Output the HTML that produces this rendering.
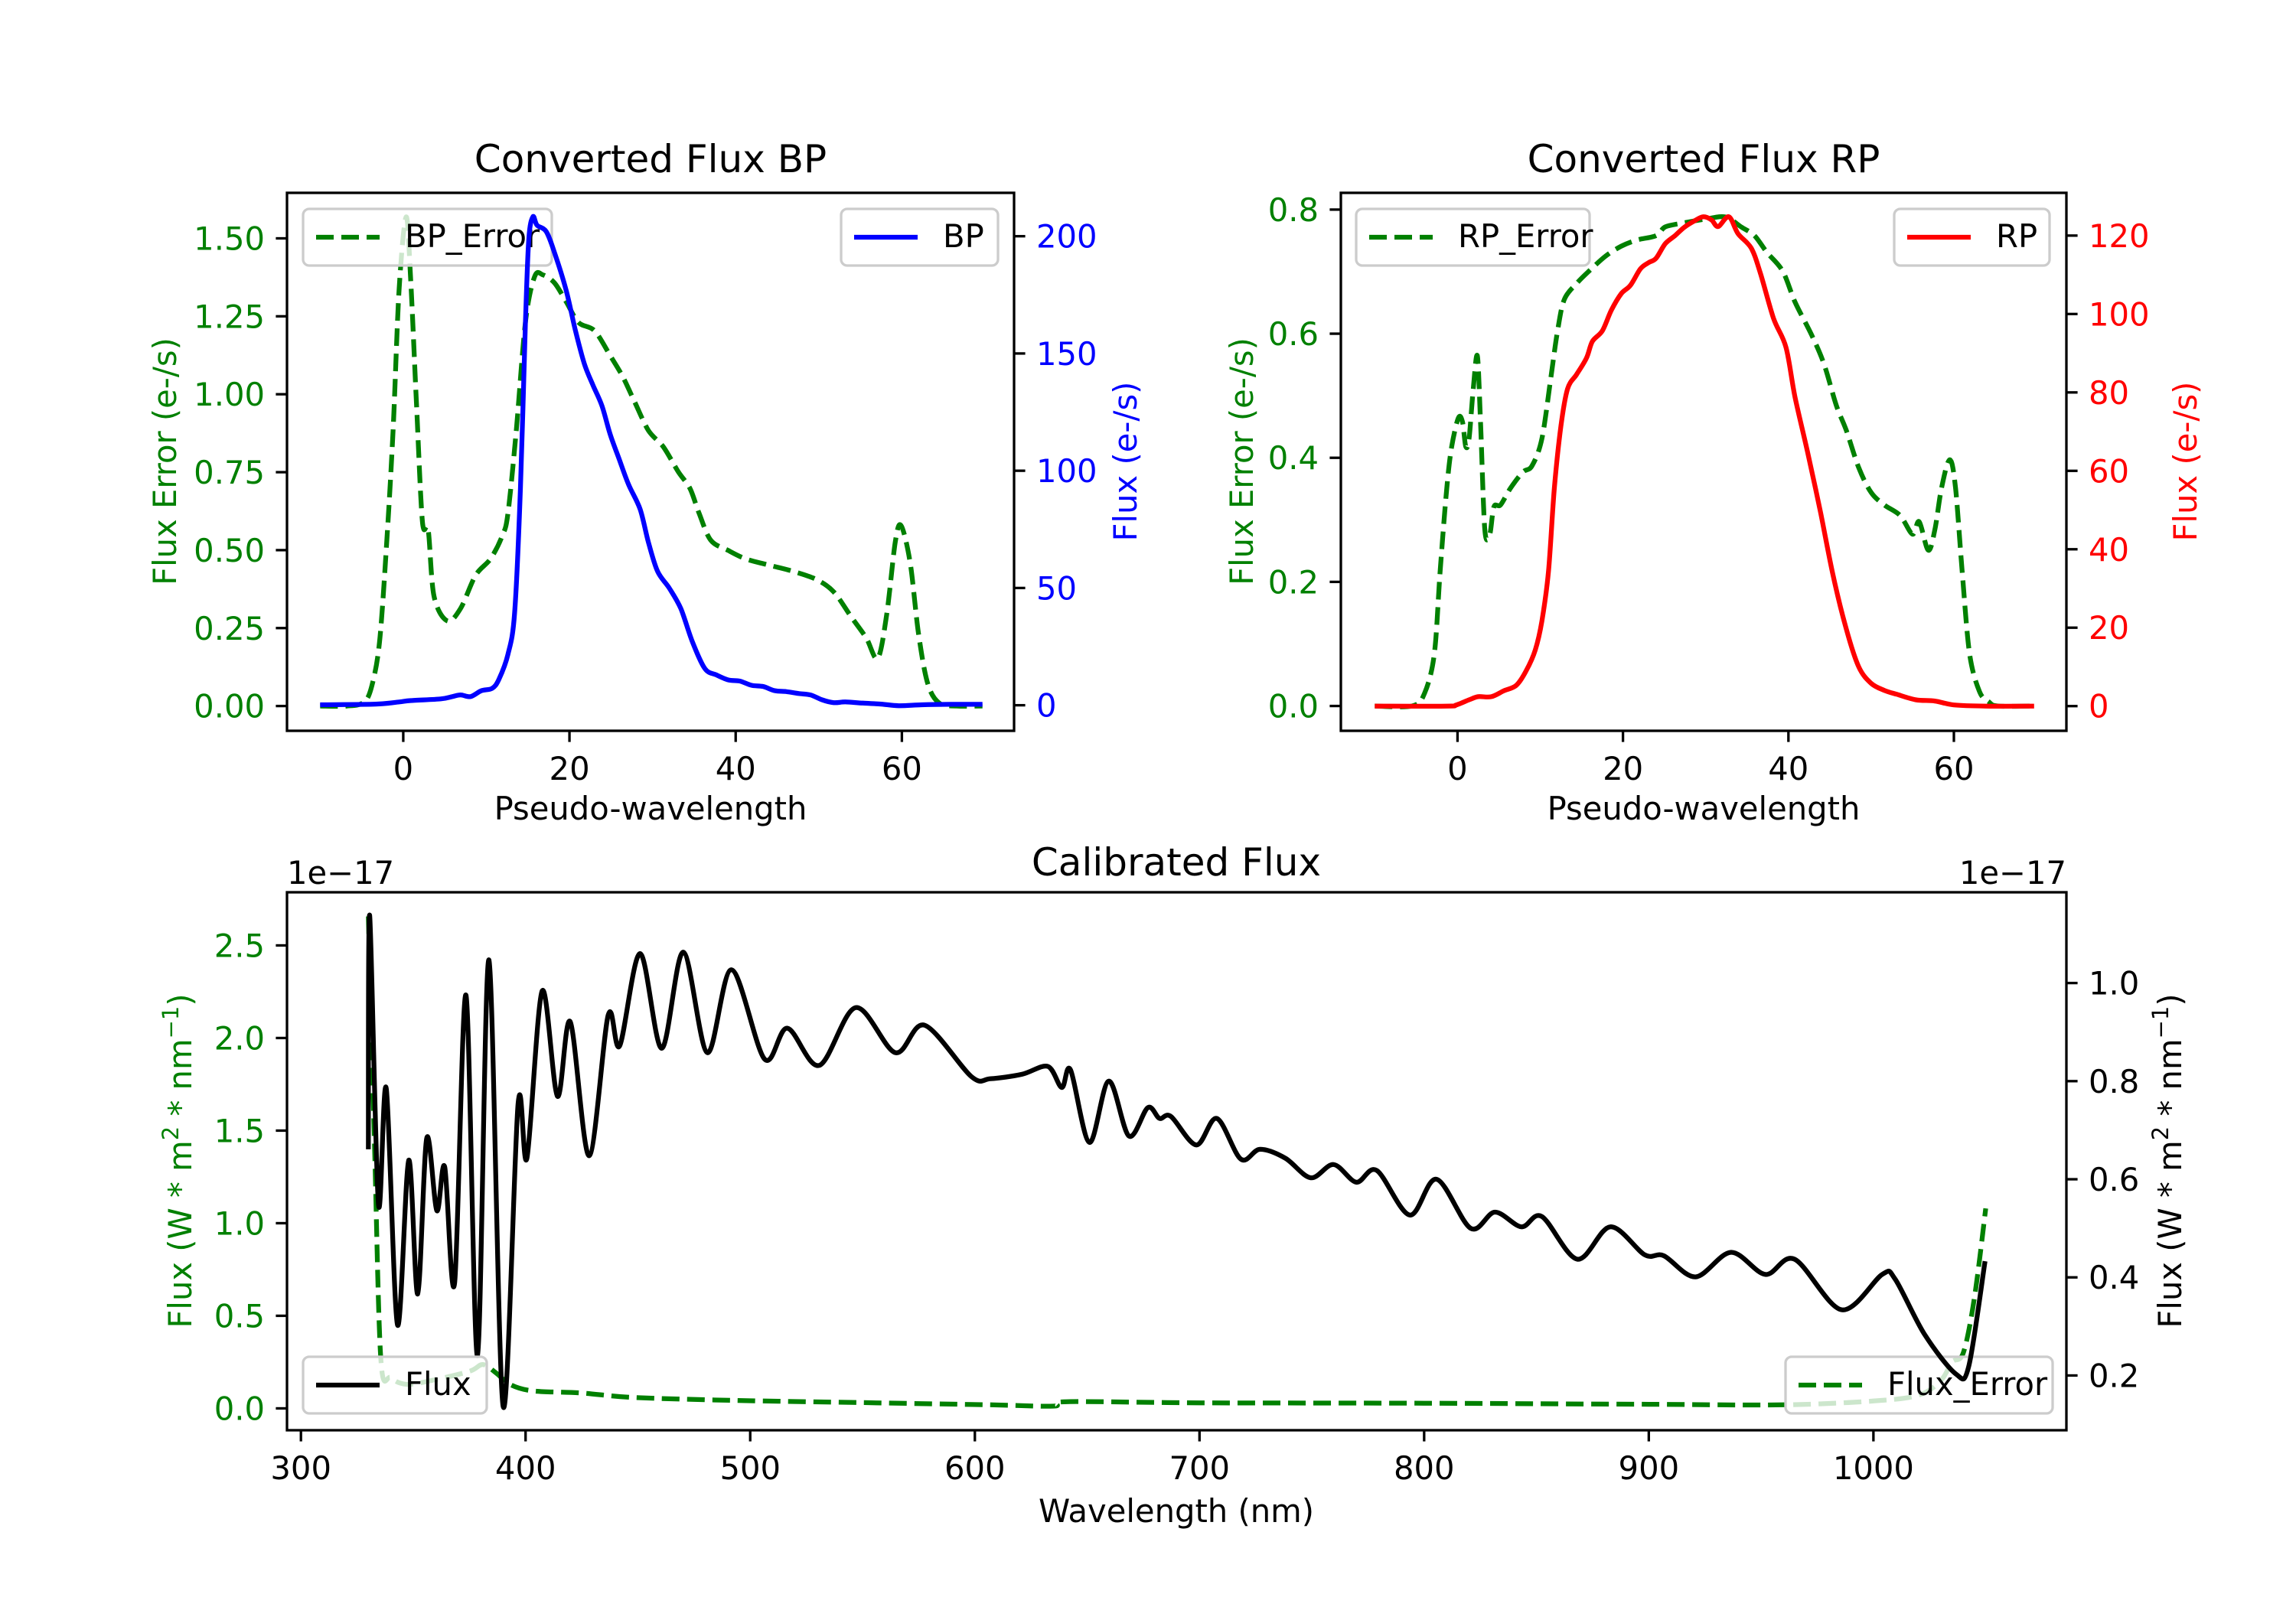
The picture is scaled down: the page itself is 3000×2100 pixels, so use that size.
<!DOCTYPE html>
<html><head><meta charset="utf-8"><style>
html,body{margin:0;padding:0;background:#fff;}
svg{display:block;font-family:"DejaVu Sans","Liberation Sans",sans-serif;}
</style></head><body>
<svg id="fig" width="3000" height="2100" viewBox="0 0 3000 2100" xmlns="http://www.w3.org/2000/svg">
<rect width="3000" height="2100" fill="#fff"/>
</svg>
<script>
// ---- BP data ----
const bpX = [-10,-3.3,-0.5,0.9,4.5,5.9,6.9,8.1,9.4,10.7,11.5,12.6,13.4,14.1,14.7,15.1,15.6,16.1,17.2,18.2,19.6,20.7,21.8,22.8,23.9,24.9,26.0,27.1,28.5,29.5,30.6,32.0,33.4,34.8,36.3,37.7,39.1,40.5,41.9,43.3,44.7,46.1,47.6,49.0,50.4,51.8,53.2,55.3,57.5,59.6,62.4,65.9,69.7];
const bpFlux = [0.2,0.5,1.4,2,2.7,3.7,4.4,3.7,6.2,7.2,11,21.7,39.4,92.5,163,198.6,208.3,204.7,202,193,177,160,145.5,136.7,127.8,115.5,104.8,94.2,83.6,69.5,57.1,50,41.2,27,15.6,12.9,10.8,10.3,8.5,8.0,6.2,5.8,5.0,4.4,2.3,1.1,1.4,0.9,0.5,-0.2,0.2,0.4,0.4];
const bpErrX = [-10,-6.8,-4.7,-3.7,-2.8,-1.9,-1.2,-0.5,0.35,0.9,1.6,2.3,3.0,3.7,5.3,6.9,8.7,10.5,11.9,12.6,13.6,14.7,15.8,16.8,18.2,19.6,21.1,23.0,24.9,26.4,27.8,29.5,31.3,33.1,34.5,35.6,37.0,39.1,41.2,44.0,46.9,49.7,51.8,53.9,55.7,57.1,58.2,59.2,59.9,61.0,62.0,63.1,64.5,66.6,69.7];
const bpErr = [0,0,0.013,0.073,0.22,0.565,0.898,1.337,1.569,1.363,0.964,0.592,0.565,0.352,0.273,0.313,0.419,0.472,0.545,0.618,0.884,1.23,1.377,1.383,1.357,1.297,1.23,1.204,1.124,1.057,0.978,0.884,0.831,0.751,0.698,0.618,0.532,0.499,0.472,0.452,0.432,0.406,0.366,0.286,0.219,0.153,0.299,0.525,0.579,0.459,0.233,0.073,0.009,0,0];
const bpLeftTicks = [0,0.25,0.5,0.75,1.0,1.25,1.5];
const bpLeftLabels = ["0.00","0.25","0.50","0.75","1.00","1.25","1.50"];
const bpRightTicks = [0,50,100,150,200];
// ---- RP data ----
const rpX = [-10,-1.3,-0.15,1.4,2.5,4.1,5.6,7.1,8.3,9.4,10.2,11.0,11.7,12.5,13.3,14.4,15.6,16.3,17.5,18.6,19.8,20.9,22.1,23.1,24.0,25.1,26.3,27.4,28.6,29.7,30.7,31.5,32.8,33.9,35.5,36.6,38.2,39.7,40.8,42.4,43.9,45.4,47.0,48.5,50.0,51.6,53.1,55.4,57.7,60.0,63.8,69.7];
const rpFlux = [0,0,0.3,1.6,2.4,2.4,3.9,5.3,9.0,14.3,21.7,34.4,55.5,71.4,80.9,84.6,88.8,93,95.7,101,105.2,107.3,111.5,113.1,114.2,117.9,120,122.1,123.7,124.8,124,122.3,124.8,120.5,116.8,110.5,98.9,91.5,78.8,64,49.2,33.3,19.6,10,5.8,4.0,3.0,1.6,1.3,0.3,0,0];
const rpErrX = [-10,-5.5,-4.0,-2.8,-2.1,-1.3,-0.7,0.1,0.6,1.0,1.4,1.9,2.4,2.8,3.3,3.9,4.4,5.2,6.4,7.9,9.0,10.2,11.3,12.1,12.9,14.4,15.9,17.9,19.8,21.7,24.0,25.1,27.1,30.1,32.4,34.3,35.9,37.4,39.3,40.8,42.8,44.3,45.8,47.0,48.5,50.0,51.6,53.5,55.0,55.8,56.9,57.7,58.5,59.5,60.2,61.0,61.9,63.1,64.2,65.3,69.7];
const rpErr = [0,0,0.02,0.084,0.217,0.351,0.418,0.464,0.458,0.418,0.431,0.511,0.564,0.451,0.284,0.277,0.321,0.324,0.351,0.377,0.387,0.431,0.531,0.605,0.655,0.681,0.701,0.725,0.741,0.751,0.758,0.772,0.778,0.785,0.788,0.772,0.758,0.731,0.701,0.651,0.598,0.551,0.484,0.444,0.384,0.344,0.324,0.307,0.277,0.297,0.251,0.284,0.351,0.397,0.351,0.217,0.084,0.023,0.007,0,0];
const rpLeftTicks = [0,0.2,0.4,0.6,0.8];
const rpLeftLabels = ["0.0","0.2","0.4","0.6","0.8"];
const rpRightTicks = [0,20,40,60,80,100,120];
const pwTicks = [0,20,40,60];
// ---- Calibrated data (units of 1e-17) ----
const calX = [330,330.6,334.5,338,343,348,352,356,360.5,364,368.4,373.5,378.6,383.7,390,396.7,400.6,407.4,414.2,419.9,428.3,436.8,441.9,451,460.6,470.2,480.9,491.7,506.4,516.5,530.7,547,564.6,577.6,598.5,607,621,632.5,638.7,642.6,651,659.6,668.6,677,682.2,687.3,698.6,707.7,718.4,726.9,738.2,749.5,759.7,769.8,778.9,793.6,805.5,820.7,831.5,843.3,852.4,868.2,882.9,898.2,906.7,920.8,936.6,951.9,964.9,985.8,1003.9,1009.6,1022.6,1036.7,1042.4,1049.7];
const calFlux = [0.661,1.138,0.549,0.785,0.303,0.639,0.366,0.684,0.536,0.625,0.388,0.975,0.240,1.047,0.137,0.755,0.643,0.984,0.769,0.921,0.648,0.935,0.872,1.060,0.867,1.063,0.858,1.027,0.845,0.908,0.832,0.950,0.858,0.914,0.809,0.805,0.814,0.830,0.787,0.823,0.675,0.800,0.688,0.746,0.724,0.728,0.670,0.724,0.641,0.661,0.643,0.603,0.630,0.594,0.618,0.527,0.600,0.500,0.533,0.503,0.524,0.437,0.503,0.446,0.444,0.401,0.451,0.406,0.437,0.334,0.406,0.397,0.285,0.203,0.218,0.433];
const calErrX = [330,332.8,335.6,340,347,358,375,381,387,393,403,425,448,493,550,607,635,641,700,800,900,960,1000,1020,1030,1035,1040,1045,1050];
const calErr = [2.657,1.40,0.261,0.166,0.13,0.15,0.2,0.237,0.19,0.13,0.095,0.083,0.059,0.043,0.031,0.019,0.012,0.036,0.03,0.028,0.022,0.019,0.04,0.071,0.15,0.25,0.30,0.6,1.08];
const calLeftTicks = [0,0.5,1.0,1.5,2.0,2.5];
const calRightTicks = [0.2,0.4,0.6,0.8,1.0];
const wlTicks = [300,400,500,600,700,800,900,1000];

const NS = "http://www.w3.org/2000/svg";
const svg = document.getElementById('fig');
const FS = 41.7;
function el(tag, attrs, parent, text){
  const e = document.createElementNS(NS, tag);
  for (const k in attrs) e.setAttribute(k, attrs[k]);
  if (text !== undefined) e.textContent = text;
  (parent || svg).appendChild(e);
  return e;
}
function scale(d0,d1,p0,p1){ return v => p0 + (v-d0)/(d1-d0)*(p1-p0); }
function smoothPath(xs, ys, sx, sy){
  const P = xs.map((x,i)=>[sx(x), sy(ys[i])]);
  let d = "M"+P[0][0].toFixed(1)+","+P[0][1].toFixed(1);
  for (let i=0;i<P.length-1;i++){
    const p0=P[Math.max(0,i-1)], p1=P[i], p2=P[i+1], p3=P[Math.min(P.length-1,i+2)];
    const t=0.16;
    const c1=[p1[0]+(p2[0]-p0[0])*t, p1[1]+(p2[1]-p0[1])*t];
    const c2=[p2[0]-(p3[0]-p1[0])*t, p2[1]-(p3[1]-p1[1])*t];
    d += "C"+c1[0].toFixed(1)+","+c1[1].toFixed(1)+" "+c2[0].toFixed(1)+","+c2[1].toFixed(1)+" "+p2[0].toFixed(1)+","+p2[1].toFixed(1);
  }
  return d;
}
let clipN = 0;
function clipFor(ax){
  const id = "clip"+(clipN++);
  const cp = el('clipPath', {id:id});
  el('rect', {x:ax.x0, y:ax.y0, width:ax.x1-ax.x0, height:ax.y1-ax.y0}, cp);
  return "url(#"+id+")";
}
function legend(x, y, w, color, dashed, label, name){
  const g = el('g', {});
  
  
  el('rect', {x:x, y:y, width:w, height:74, rx:8, fill:'#fff', 'fill-opacity':0.8, stroke:'#cccccc', 'stroke-width':3.3}, g);
  const ln = el('line', {x1:x+17, x2:x+100, y1:y+37, y2:y+37, stroke:color, 'stroke-width':6.25}, g);
  if (dashed) ln.setAttribute('stroke-dasharray', '23,10');
  el('text', {x:x+133, y:y+50, 'font-size':FS, fill:'#000'}, g, label);
}
function xTicks(ax, sx, ticks, labels){
  ticks.forEach((t,i)=>{
    const x = sx(t);
    const tk = el('line', {x1:x, x2:x, y1:ax.y1, y2:ax.y1+14.6, stroke:'#000', 'stroke-width':3.3});
    
    
    const tx = el('text', {x:x, y:ax.y1+64, 'font-size':FS, 'text-anchor':'middle'}, svg, labels ? labels[i] : String(t));
    
    
  });
}
function yTicks(ax, sy, ticks, labels, side, color){
  ticks.forEach((t,i)=>{
    const y = sy(t);
    const xs = side==='left' ? ax.x0 : ax.x1;
    const dir = side==='left' ? -1 : 1;
    const tk = el('line', {x1:xs, x2:xs+dir*14.6, y1:y, y2:y, stroke:'#000', 'stroke-width':3.3});
    
    
    const tx = el('text', {x:xs+dir*29, y:y+15, 'font-size':FS, fill:color, 'text-anchor': side==='left'?'end':'start'}, svg, labels ? labels[i] : String(t));
    
    
  });
}
function frame(ax){
  const r = el('rect', {x:ax.x0, y:ax.y0, width:ax.x1-ax.x0, height:ax.y1-ax.y0, fill:'none', stroke:'#000', 'stroke-width':3.3});
  
  
}
function ylab(x, cy, text, color, name){
  const t = el('text', {x:x, y:cy, 'font-size':FS, fill:color, 'text-anchor':'middle', transform:'rotate(-90 '+x+' '+cy+')'}, svg, text);
  
  
  return t;
}
function series(xs, ys, sx, sy, color, dashed, clip, name){
  const p = el('path', {d:smoothPath(xs, ys, sx, sy), fill:'none', stroke:color, 'stroke-width':6.25, 'stroke-linejoin':'round', 'clip-path':clip});
  if (dashed) p.setAttribute('stroke-dasharray', '23,10');
  
  
}

// ===== BP panel =====
(function(){
  const ax = {x0:375, x1:1325, y0:252, y1:955};
  const sx = scale(-13.99, 73.5, ax.x0, ax.x1);
  const syL = scale(-0.0795, 1.646, ax.y1, ax.y0);
  const syR = scale(-10.9, 218.5, ax.y1, ax.y0);
  const clip = clipFor(ax);
  series(bpErrX, bpErr, sx, syL, '#008000', true, clip, 'bp-error-line');
  legend(396, 273, 325, '#008000', true, 'BP_Error', 'bp-error-legend');
  series(bpX, bpFlux, sx, syR, '#0000ff', false, clip, 'bp-flux-line');
  legend(1099, 273, 205, '#0000ff', false, 'BP', 'bp-legend');
  frame(ax);
  xTicks(ax, sx, pwTicks);
  yTicks(ax, syL, bpLeftTicks, bpLeftLabels, 'left', '#008000');
  yTicks(ax, syR, bpRightTicks, null, 'right', '#0000ff');
  const t = el('text', {x:850, y:225, 'font-size':50, 'text-anchor':'middle'}, svg, 'Converted Flux BP');
   
  const xl = el('text', {x:850, y:1071, 'font-size':FS, 'text-anchor':'middle'}, svg, 'Pseudo-wavelength');
   
  ylab(230, 603, 'Flux Error (e-/s)', '#008000', 'bp-left-y-axis-title');
  ylab(1485, 603, 'Flux (e-/s)', '#0000ff', 'bp-right-y-axis-title');
})();

// ===== RP panel =====
(function(){
  const ax = {x0:1752, x1:2700, y0:252, y1:955};
  const sx = scale(-14.1, 73.6, ax.x0, ax.x1);
  const syL = scale(-0.04, 0.827, ax.y1, ax.y0);
  const syR = scale(-6.3, 130.9, ax.y1, ax.y0);
  const clip = clipFor(ax);
  series(rpErrX, rpErr, sx, syL, '#008000', true, clip, 'rp-error-line');
  legend(1772, 273, 305, '#008000', true, 'RP_Error', 'rp-error-legend');
  series(rpX, rpFlux, sx, syR, '#ff0000', false, clip, 'rp-flux-line');
  legend(2475, 273, 203, '#ff0000', false, 'RP', 'rp-legend');
  frame(ax);
  xTicks(ax, sx, pwTicks);
  yTicks(ax, syL, rpLeftTicks, rpLeftLabels, 'left', '#008000');
  yTicks(ax, syR, rpRightTicks, null, 'right', '#ff0000');
  const t = el('text', {x:2226, y:225, 'font-size':50, 'text-anchor':'middle'}, svg, 'Converted Flux RP');
   
  const xl = el('text', {x:2226, y:1071, 'font-size':FS, 'text-anchor':'middle'}, svg, 'Pseudo-wavelength');
   
  ylab(1637, 603, 'Flux Error (e-/s)', '#008000', 'rp-left-y-axis-title');
  ylab(2870, 603, 'Flux (e-/s)', '#ff0000', 'rp-right-y-axis-title');
})();

// ===== Calibrated panel =====
(function(){
  const ax = {x0:375, x1:2700, y0:1166, y1:1869};
  const sx = scale(293.8, 1085.9, ax.x0, ax.x1);
  const syL = scale(-0.118, 2.787, ax.y1, ax.y0);
  const syR = scale(0.0884, 1.185, ax.y1, ax.y0);
  const clip = clipFor(ax);
  series(calErrX, calErr, sx, syL, '#008000', true, clip, 'flux-error-line');
  legend(2333, 1773, 349, '#008000', true, 'Flux_Error', 'flux-error-legend');
  series(calX, calFlux, sx, syR, '#000000', false, clip, 'flux-line');
  legend(396, 1773, 240, '#000000', false, 'Flux', 'flux-legend');
  frame(ax);
  xTicks(ax, sx, wlTicks);
  yTicks(ax, syL, calLeftTicks, calLeftTicks.map(v=>v.toFixed(1)), 'left', '#008000');
  yTicks(ax, syR, calRightTicks, calRightTicks.map(v=>v.toFixed(1)), 'right', '#000');
  const t = el('text', {x:1537, y:1144, 'font-size':50, 'text-anchor':'middle'}, svg, 'Calibrated Flux');
   
  const o1 = el('text', {x:375, y:1155, 'font-size':FS}, svg, '1e\u221217');
   
  const o2 = el('text', {x:2700, y:1155, 'font-size':FS, 'text-anchor':'end'}, svg, '1e\u221217');
   
  const xl = el('text', {x:1537, y:1989, 'font-size':FS, 'text-anchor':'middle'}, svg, 'Wavelength (nm)');
   
  [[250,'#008000','left-y-axis-title'],[2850,'#000','right-y-axis-title']].forEach(a=>{
    const tt = ylab(a[0], 1517, '', a[1], a[2]);
    tt.appendChild(document.createTextNode('Flux (W * m'));
    el('tspan', {'baseline-shift':'super', 'font-size':29}, tt, '2');
    tt.appendChild(document.createTextNode(' * nm'));
    el('tspan', {'baseline-shift':'super', 'font-size':29}, tt, '\u22121');
    tt.appendChild(document.createTextNode(')'));
  });
})();
</script>
</body></html>
